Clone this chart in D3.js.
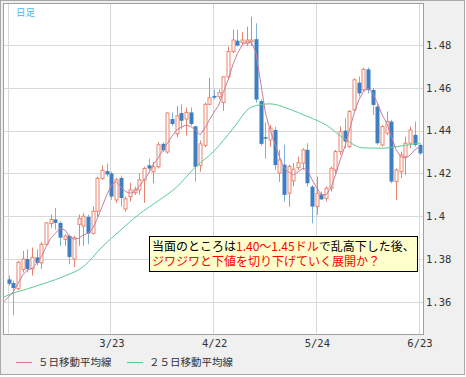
<!DOCTYPE html>
<html>
<head>
<meta charset="utf-8">
<script src="https://cdn.jsdelivr.net/npm/d3@7"></script>
<style>
  body { margin: 0; background: #fff; }
</style>
</head>
<body>
<div class="chart"></div>
<script>
// daily candles, one per trading day (index 0 .. 88)
const opens = [1.3705,1.3688,1.3662,1.3751,1.3800,1.3754,1.3808,1.3782,1.3869,1.3966,
  1.3985,1.3969,1.3892,1.3908,1.3800,1.3962,1.3954,1.3997,1.3920,1.4023,
  1.4177,1.4211,1.4200,1.4076,1.4179,1.4034,1.4092,1.4110,1.4123,1.4169,
  1.4238,1.4208,1.4231,1.4338,1.4300,1.4454,1.4385,1.4482,1.4454,1.4485,
  1.4420,1.4238,1.4331,1.4523,1.4562,1.4558,1.4531,1.4651,1.4769,1.4820,
  1.4812,1.4808,1.4815,1.4827,1.4538,1.4369,1.4356,1.4403,1.4202,1.4241,
  1.4108,1.4165,1.4227,1.4248,1.4310,1.4138,1.4045,1.4102,1.4084,1.4131,
  1.4216,1.4302,1.4400,1.4325,1.4497,1.4624,1.4590,1.4686,1.4590,1.4512,
  1.4333,1.4388,1.4442,1.4162,1.4208,1.4278,1.4341,1.4380,1.4333];
const highs = [1.3723,1.3700,1.3792,1.3838,1.3846,1.3854,1.3846,1.3880,1.3972,1.4008,
  1.4038,1.3977,1.3915,1.3915,1.3908,1.4008,1.4015,1.4008,1.4046,1.4185,
  1.4238,1.4246,1.4208,1.4179,1.4190,1.4092,1.4156,1.4138,1.4202,1.4231,
  1.4269,1.4254,1.4346,1.4346,1.4485,1.4485,1.4515,1.4523,1.4508,1.4508,
  1.4423,1.4354,1.4531,1.4646,1.4592,1.4592,1.4654,1.4792,1.4872,1.4872,
  1.4860,1.4885,1.4932,1.4901,1.4546,1.4438,1.4426,1.4417,1.4310,1.4334,
  1.4241,1.4248,1.4278,1.4318,1.4341,1.4146,1.4185,1.4115,1.4139,1.4232,
  1.4310,1.4419,1.4458,1.4497,1.4644,1.4652,1.4694,1.4694,1.4598,1.4528,
  1.4427,1.4489,1.4450,1.4224,1.4302,1.4372,1.4419,1.4442,1.4341];
const lows = [1.3677,1.3538,1.3655,1.3738,1.3738,1.3723,1.3770,1.3754,1.3862,1.3946,
  1.3938,1.3862,1.3862,1.3777,1.3762,1.3862,1.3862,1.3869,1.3915,1.4000,
  1.4169,1.4185,1.4077,1.4062,1.4045,1.4022,1.4069,1.4100,1.4100,1.4062,
  1.4215,1.4154,1.4223,1.4300,1.4292,1.4423,1.4369,1.4408,1.4377,1.4423,
  1.4162,1.4208,1.4323,1.4518,1.4546,1.4546,1.4492,1.4638,1.4762,1.4792,
  1.4800,1.4795,1.4795,1.4530,1.4330,1.4269,1.4324,1.4216,1.4160,1.4069,
  1.4045,1.4140,1.4216,1.4216,1.4138,1.3967,1.4006,1.4076,1.4069,1.4115,
  1.4200,1.4286,1.4318,1.4318,1.4490,1.4559,1.4582,1.4574,1.4473,1.4334,
  1.4326,1.4380,1.4154,1.4076,1.4178,1.4193,1.4318,1.4325,1.4287];
const closes = [1.3685,1.3665,1.3785,1.3800,1.3754,1.3808,1.3782,1.3869,1.3969,1.3985,
  1.3969,1.3900,1.3908,1.3810,1.3900,1.3989,1.4000,1.3920,1.4023,1.4177,
  1.4215,1.4195,1.4092,1.4170,1.4085,1.4081,1.4123,1.4126,1.4170,1.4223,
  1.4223,1.4231,1.4334,1.4308,1.4482,1.4431,1.4469,1.4446,1.4485,1.4431,
  1.4231,1.4338,1.4523,1.4554,1.4554,1.4577,1.4651,1.4769,1.4823,1.4797,
  1.4823,1.4823,1.4823,1.4545,1.4338,1.4362,1.4412,1.4239,1.4263,1.4100,
  1.4233,1.4220,1.4250,1.4310,1.4154,1.4045,1.4107,1.4079,1.4131,1.4224,
  1.4302,1.4395,1.4349,1.4489,1.4637,1.4574,1.4686,1.4590,1.4520,1.4341,
  1.4419,1.4442,1.4162,1.4216,1.4286,1.4341,1.4403,1.4333,1.4294];

// 5-day moving average, index -1 .. 88
const ma5 = [1.3601,
  1.3625,1.3648,1.3687,1.3726,1.3749,1.3757,1.3781,1.3812,1.3858,1.3897,
  1.3921,1.3944,1.3936,1.3905,1.3893,1.3897,1.3913,1.3921,1.3944,1.3991,
  1.4045,1.4100,1.4146,1.4162,1.4138,1.4115,1.4108,1.4115,1.4142,1.4170,
  1.4202,1.4244,1.4271,1.4310,1.4341,1.4375,1.4403,1.4417,1.4426,1.4419,
  1.4403,1.4380,1.4412,1.4450,1.4487,1.4520,1.4581,1.4637,1.4707,1.4761,
  1.4800,1.4815,1.4811,1.4761,1.4621,1.4481,1.4403,1.4341,1.4278,1.4226,
  1.4205,1.4193,1.4208,1.4224,1.4216,1.4170,1.4131,1.4100,1.4100,1.4131,
  1.4193,1.4263,1.4325,1.4403,1.4481,1.4543,1.4582,1.4598,1.4574,1.4528,
  1.4473,1.4434,1.4372,1.4310,1.4278,1.4271,1.4286,1.4310,1.4324];

// 25-day moving average, read every 4 days
const ma25Idx = [-1,0,4,8,12,16,20,24,28,32,36,40,44,48,52,56,60,64,68,72,76,80,84,88];
const ma25 = [1.3623,1.3633,1.3661,1.3689,1.3721,1.3765,1.3857,1.3936,1.4011,1.4072,
  1.4137,1.4230,1.4305,1.4408,1.4510,1.4525,1.4501,1.4466,1.4426,1.4361,
  1.4319,1.4318,1.4328,1.4342];

const tickIdx = [0, 22, 44, 66, 88];
const tickLabels = ['', '3/23', '4/22', '5/24', '6/23'];
const yTicks = [1.36, 1.38, 1.40, 1.42, 1.44, 1.46, 1.48];

const width = 466, height = 377;
const plotLeft = 3, plotRight = 423, plotTop = 3, plotBottom = 334;

const upColor = '#e8846c', downColor = '#3d7fc1', downWick = '#7eb1dc';
const ma5Color = '#c97d9b', ma25Color = '#5acb92';

const svg = d3.select('.chart')
  .append('svg')
  .attr('width', width)
  .attr('height', height)
  .style('display', 'block');

svg.append('rect')
  .attr('x', 0.5).attr('y', 0.5)
  .attr('width', width - 2).attr('height', height - 3)
  .attr('fill', '#f0f0f0')
  .attr('stroke', '#a8a8a8');

svg.append('rect')
  .attr('x', plotLeft + 0.5).attr('y', plotTop + 0.5)
  .attr('width', plotRight - plotLeft).attr('height', plotBottom - plotTop)
  .attr('fill', '#fff')
  .attr('stroke', '#a0a0a0');

svg.append('clipPath').attr('id', 'plotclip')
  .append('rect')
  .attr('x', plotLeft + 1).attr('y', plotTop + 1)
  .attr('width', plotRight - plotLeft - 1).attr('height', plotBottom - plotTop - 1);

const xScale = d3.scaleLinear()
  .domain([0, 88])
  .range([8.8, 419.5]);

const yScale = d3.scaleLinear()
  .domain([1.345, 1.4996])
  .range([plotBottom, plotTop]);

// grid
svg.append('g')
  .selectAll('line')
  .data(yTicks)
  .join('line')
  .attr('x1', plotLeft + 1).attr('x2', plotRight)
  .attr('y1', d => Math.round(yScale(d)) + 0.5)
  .attr('y2', d => Math.round(yScale(d)) + 0.5)
  .attr('stroke', '#d9d9d9');

svg.append('g')
  .selectAll('line')
  .data(tickIdx)
  .join('line')
  .attr('x1', d => Math.round(xScale(d)) - 0.5)
  .attr('x2', d => Math.round(xScale(d)) - 0.5)
  .attr('y1', plotTop + 1).attr('y2', plotBottom)
  .attr('stroke', '#d9d9d9');

// axes
const xAxis = d3.axisBottom(xScale)
  .tickValues(tickIdx)
  .tickFormat((d, i) => tickLabels[i])
  .tickSize(0)
  .tickPadding(6);

svg.append('g')
  .attr('transform', `translate(0, ${plotBottom})`)
  .call(xAxis)
  .call(g => g.select('.domain').remove())
  .selectAll('text')
  .style('font', '10.5px "DejaVu Sans Mono"')
  .attr('fill', '#333');

const yAxis = d3.axisRight(yScale)
  .tickValues(yTicks)
  .tickFormat(d3.format('~g'))
  .tickSize(0)
  .tickPadding(3);

svg.append('g')
  .attr('transform', `translate(${plotRight}, 0)`)
  .call(yAxis)
  .call(g => g.select('.domain').remove())
  .selectAll('text')
  .style('font', '10.5px "DejaVu Sans Mono"')
  .attr('fill', '#333');

// candles
const plotArea = svg.append('g').attr('clip-path', 'url(#plotclip)');
const candles = opens.map((o, i) => ({ i, o, h: highs[i], l: lows[i], c: closes[i] }));

const cg = plotArea.append('g')
  .selectAll('g')
  .data(candles)
  .join('g');

cg.append('line')
  .attr('x1', d => Math.round(xScale(d.i)) + 0.5)
  .attr('x2', d => Math.round(xScale(d.i)) + 0.5)
  .attr('y1', d => yScale(d.h))
  .attr('y2', d => yScale(d.l))
  .attr('stroke', d => d.c >= d.o ? upColor : downWick);

cg.append('rect')
  .attr('x', d => Math.round(xScale(d.i)) - (d.c >= d.o ? 1 : 1.5))
  .attr('width', d => d.c >= d.o ? 3 : 4)
  .attr('y', d => yScale(Math.max(d.o, d.c)))
  .attr('height', d => Math.max(1, Math.abs(yScale(d.o) - yScale(d.c))))
  .attr('fill', d => d.c >= d.o ? '#fff' : downColor)
  .attr('stroke', d => d.c >= d.o ? upColor : 'none');

// moving averages
const line = d3.line()
  .x(d => xScale(d[0]))
  .y(d => yScale(d[1]));

plotArea.append('path')
  .datum(ma25.map((v, k) => [ma25Idx[k], v]))
  .attr('d', line.curve(d3.curveMonotoneX))
  .attr('fill', 'none')
  .attr('stroke', ma25Color)
  .attr('stroke-width', 1);

plotArea.append('path')
  .datum(ma5.map((v, k) => [k - 1, v]))
  .attr('d', line.curve(d3.curveLinear))
  .attr('fill', 'none')
  .attr('stroke', ma5Color)
  .attr('stroke-width', 1);

svg.append('text')
  .attr('x', 16).attr('y', 16)
  .style('font', '9.5px "Noto Sans CJK JP"')
  .attr('fill', '#45b8ea')
  .text('日足');

// note box
svg.append('rect')
  .attr('x', 149.5).attr('y', 236.5)
  .attr('width', 268).attr('height', 35)
  .attr('fill', '#ffffcc')
  .attr('stroke', '#000');

const note1 = svg.append('text')
  .attr('x', 152).attr('y', 251)
  .style('font', '12px "Noto Sans CJK JP"');
note1.append('tspan').attr('fill', '#000').text('当面のところは');
note1.append('tspan').attr('fill', '#ff0000').text('1.40～1.45ドル');
note1.append('tspan').attr('fill', '#000').text('で乱高下した後、');

svg.append('text')
  .attr('x', 152).attr('y', 266)
  .style('font', '12px "Noto Sans CJK JP"')
  .attr('fill', '#ff0000')
  .text('ジワジワと下値を切り下げていく展開か？');

// legend
const legend = [
  { label: '５日移動平均線', color: ma5Color, x: 16 },
  { label: '２５日移動平均線', color: ma25Color, x: 127 }
];

const lg = svg.append('g')
  .selectAll('g')
  .data(legend)
  .join('g')
  .attr('transform', d => `translate(${d.x}, 362)`);

lg.append('line')
  .attr('x1', 0).attr('x2', 16)
  .attr('y1', 0.5).attr('y2', 0.5)
  .attr('stroke', d => d.color);

lg.append('text')
  .attr('x', 22).attr('y', 4)
  .style('font', '10.5px "Noto Sans CJK JP"')
  .attr('fill', '#333')
  .text(d => d.label);
</script>
</body>
</html>
